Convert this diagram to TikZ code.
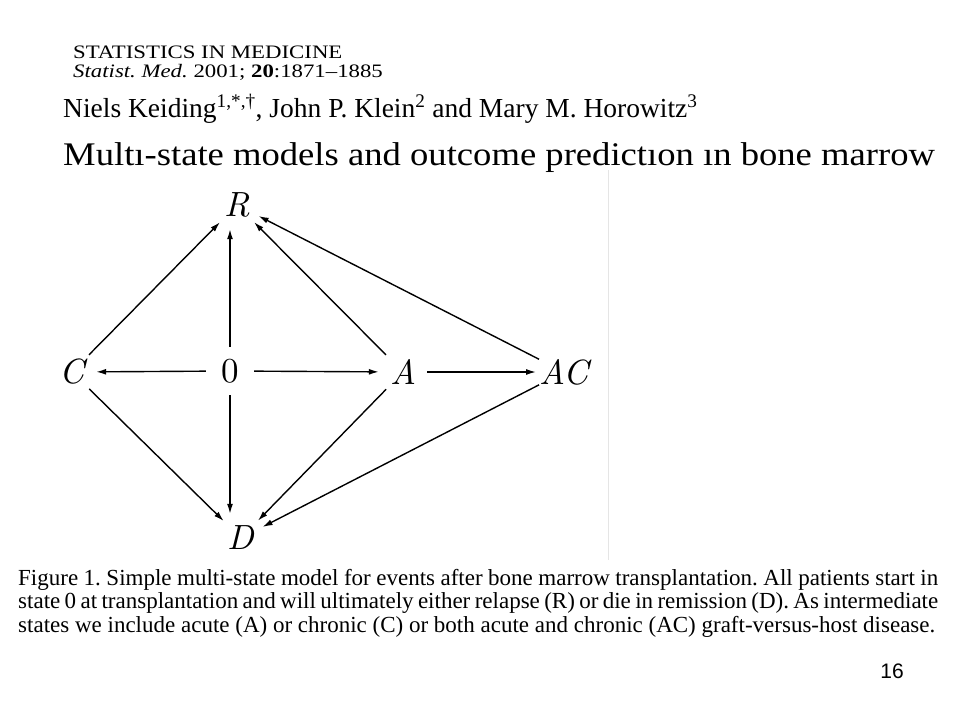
\documentclass[tikz,border=0pt]{standalone}
\usepackage{fontspec}
\setmainfont{Liberation Serif}
\newfontfamily\headfont[FakeStretch=1.2]{Liberation Serif}
\newfontfamily\titlefont[FakeStretch=1.11]{Liberation Serif}
\newfontfamily\pagefont{Liberation Sans}
\newfontfamily\statefont{lmroman10}[Extension=.otf, UprightFont=*-regular, ItalicFont=*-italic]
\usepackage{tikz}
\usetikzlibrary{arrows.meta}
\frenchspacing

\begin{document}
\begin{tikzpicture}[x=1pt,y=-1pt,
  state/.style={circle, minimum size=48pt, inner sep=0pt, font=\statefont\fontsize{35}{40}\selectfont},
  trans/.style={-{Latex[length=10pt,width=6pt]}, line width=1.4pt},
  txt/.style={anchor=base west, inner sep=0pt}]
\useasboundingbox (0,0) rectangle (960,720);
% ---- header of the paper ----
\node[txt, font=\headfont\fontsize{19}{22}\selectfont] (journal) at (73,58) {STATISTICS IN MEDICINE};
\node[txt, font=\headfont\fontsize{19}{22}\selectfont] (volume) at (73,77) {\textit{Statist. Med.} 2001; \textbf{20}:1871–1885};
\node[txt, font=\fontsize{27.5}{32}\selectfont] (authors) at (63,117)
  {Niels Keiding\textsuperscript{1,*,\textdagger}, John P. Klein\textsuperscript{2} and Mary M. Horowitz\textsuperscript{3}};
\node[txt, font=\titlefont\fontsize{33}{38}\selectfont] (title) at (63,165) {Multı-state models and outcome predictıon ın bone marrow};
% ---- edge of the cut-out figure ----
\draw[gray!20, line width=0.8pt] (608,170) -- (608,560);
% ---- states ----
\node[state] (R) at (237,205) {\itshape R};
\node[state] (C) at (72,372) {\itshape C};
\node[state] (zero) at (230,371) {0};
\node[state] (A) at (403,372) {\itshape A};
\node[state] (AC) at (564,372) {\itshape AC};
\node[state] (D) at (241,538) {\itshape D};
% ---- transitions ----
\draw[trans] (zero) -- (C);
\draw[trans] (zero) -- (A);
\draw[trans] (A) -- (AC);
\draw[trans] (zero.north) -- (zero.north |- R.south);
\draw[trans] (zero.south) -- (zero.south |- D.north);
\draw[trans] (C) -- (R);
\draw[trans] (C) -- (D);
\draw[trans] (A) -- (R);
\draw[trans] (A) -- (D);
\draw[trans] (AC) -- (R);
\draw[trans] (AC) -- (D);
% ---- caption ----
\node[txt, font=\fontsize{23}{26}\selectfont] (capA) at (18,585)
  {\makebox[920pt][s]{Figure 1. Simple multi-state model for events after bone marrow transplantation. All patients start in}};
\node[txt, font=\fontsize{23}{26}\selectfont] (capB) at (18,608)
  {\makebox[920pt][s]{state 0 at transplantation and will ultimately either relapse (R) or die in remission (D). As intermediate}};
\node[txt, font=\fontsize{23}{26}\selectfont] (capC) at (18,632)
  {states we include acute (A) or chronic (C) or both acute and chronic (AC) graft-versus-host disease.};
% ---- slide number ----
\node[anchor=base, inner sep=0pt, font=\pagefont\fontsize{21}{24}\selectfont] (page) at (892,678) {16};
\end{tikzpicture}
\end{document}
